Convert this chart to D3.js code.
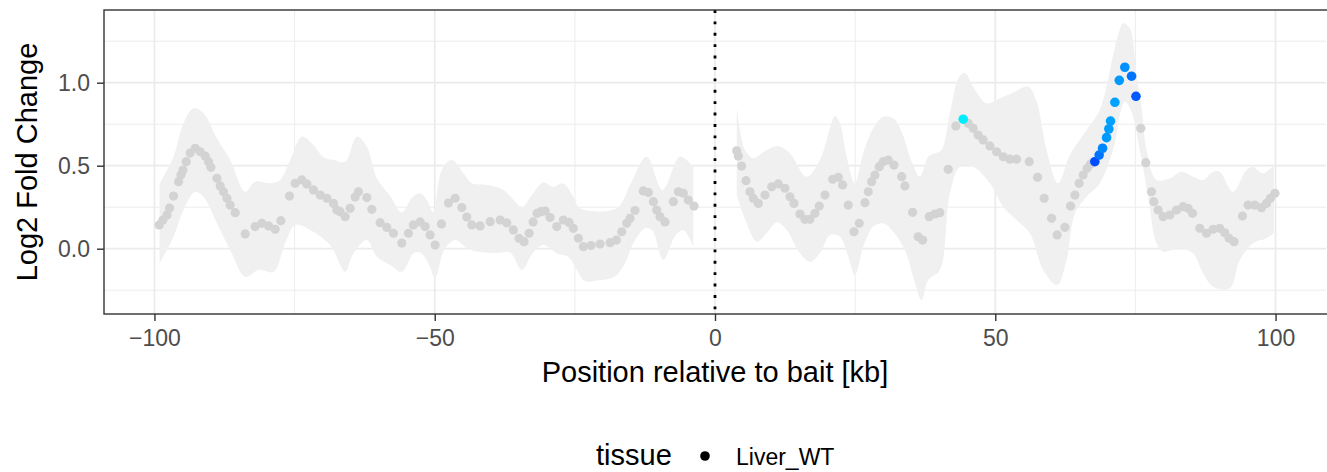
<!DOCTYPE html>
<html><head><meta charset="utf-8">
<script src="https://cdn.jsdelivr.net/npm/d3@7"></script>
<style>body{margin:0;background:#fff} svg{display:block} text{font-family:"Liberation Sans",Arial,Helvetica,sans-serif}</style>
</head><body><svg id="c" width="1327" height="472"></svg>
<script>
// ---------- data ----------
const xTicks = [-100, -50, 0, 50, 100];
const xMinor = [-75, -25, 25, 75];
const yTicks = [0, 0.5, 1.0];
const yMinor = [-0.25, 0.25, 0.75, 1.25];
const xTitle = "Position relative to bait [kb]";
const yTitle = "Log2 Fold Change";
const legendTitle = "tissue";
const legendLabel = "Liver_WT";

// grey points (non-significant windows)
const posGray = [-99.15,-98.49,-97.77,-97.31,-96.60,-95.70,-95.28,-94.92,-94.33,-93.62,-92.73,-91.83,-90.94,-90.35,-89.93,-88.86,-88.27,-87.68,-87.07,-86.49,-85.59,-83.81,-82.03,-80.83,-79.65,-78.46,-77.44,-75.91,-74.89,-73.70,-72.81,-71.63,-70.44,-69.24,-68.06,-67.46,-66.87,-65.98,-65.09,-64.20,-63.61,-62.11,-61.22,-59.74,-58.54,-57.36,-55.87,-54.69,-53.80,-52.60,-51.71,-50.82,-49.93,-48.81,-47.56,-46.36,-45.17,-44.28,-43.39,-41.91,-40.12,-38.34,-37.14,-35.97,-34.95,-34.06,-33.17,-32.45,-31.74,-31.03,-30.31,-29.42,-28.23,-27.05,-26.03,-25.27,-24.38,-23.48,-22.11,-20.51,-18.72,-17.60,-16.64,-15.75,-15.16,-14.27,-12.79,-11.89,-11.00,-10.40,-9.81,-8.92,-7.44,-6.54,-5.65,-4.76,-3.74,
 3.87,4.15,4.76,5.53,6.24,6.83,7.72,8.92,10.11,11.29,12.48,13.37,14.09,15.16,16.05,16.94,17.83,18.60,19.62,20.99,21.99,22.77,23.77,24.79,25.73,26.75,27.34,27.94,28.53,29.30,30.01,30.90,31.92,33.29,33.88,35.25,36.25,37.04,38.21,39.23,40.12,41.60,42.97,45.17,46.06,46.95,47.84,49.04,50.23,51.41,52.60,53.80,56.05,57.54,58.72,60.04,61.04,62.41,63.43,64.20,64.96,65.68,66.39,66.99,75.96,76.86,77.87,78.28,79.05,79.94,81.14,82.33,83.51,84.40,85.18,86.49,87.68,88.86,90.05,90.94,91.71,92.60,94.10,95.10,96.29,97.49,98.38,99.09,99.90];
const lfcGray = [0.143,0.173,0.203,0.245,0.317,0.404,0.444,0.474,0.524,0.576,0.605,0.584,0.558,0.524,0.490,0.424,0.378,0.343,0.304,0.263,0.217,0.089,0.133,0.153,0.137,0.117,0.169,0.317,0.394,0.414,0.390,0.354,0.323,0.304,0.273,0.233,0.223,0.193,0.243,0.311,0.343,0.308,0.237,0.157,0.128,0.093,0.034,0.093,0.143,0.161,0.133,0.083,0.022,0.149,0.275,0.304,0.248,0.191,0.143,0.137,0.163,0.173,0.155,0.113,0.063,0.042,0.093,0.161,0.213,0.223,0.227,0.188,0.133,0.173,0.158,0.123,0.063,0.012,0.019,0.028,0.036,0.052,0.102,0.153,0.183,0.230,0.348,0.339,0.283,0.233,0.193,0.161,0.283,0.343,0.334,0.293,0.257,
 0.590,0.558,0.498,0.410,0.343,0.304,0.273,0.323,0.373,0.390,0.364,0.313,0.273,0.209,0.177,0.177,0.213,0.257,0.323,0.418,0.430,0.384,0.263,0.102,0.153,0.277,0.343,0.404,0.444,0.494,0.524,0.534,0.504,0.434,0.378,0.219,0.072,0.052,0.193,0.209,0.217,0.478,0.739,0.755,0.725,0.685,0.655,0.619,0.584,0.554,0.539,0.539,0.524,0.430,0.304,0.183,0.083,0.129,0.257,0.323,0.394,0.444,0.484,0.510,0.725,0.518,0.343,0.283,0.233,0.193,0.203,0.233,0.253,0.243,0.213,0.123,0.093,0.117,0.123,0.096,0.063,0.042,0.197,0.263,0.263,0.247,0.273,0.304,0.334];

// significant windows, coloured by score (0 = cyan, 1 = blue)
const posSig = [44.28, 67.76, 68.53, 69.14, 69.85, 70.26, 70.56, 71.34, 72.12, 73.11, 74.31, 75.10];
const lfcSig = [0.780, 0.524, 0.564, 0.605, 0.669, 0.721, 0.769, 0.882, 1.014, 1.093, 1.039, 0.918];
const scoreSig = [0.07, 0.70, 0.55, 0.47, 0.40, 0.39, 0.37, 0.37, 0.40, 0.43, 0.55, 0.65];

// confidence ribbon, left of bait: [kb, upper] and [kb, lower]
const leftUpper = [[-99.09,0.390],[-96.60,0.554],[-94.81,0.755],[-93.03,0.846],[-91.25,0.816],[-88.86,0.665],[-86.49,0.534],[-83.81,0.343],[-82.03,0.404],[-79.35,0.394],[-77.57,0.414],[-75.79,0.534],[-73.70,0.675],[-71.63,0.625],[-69.85,0.551],[-68.06,0.534],[-65.98,0.524],[-63.89,0.675],[-62.11,0.614],[-60.33,0.424],[-57.95,0.317],[-55.87,0.218],[-54.08,0.305],[-52.60,0.334],[-51.41,0.293],[-50.29,0.221],[-48.74,0.474],[-46.95,0.534],[-44.88,0.454],[-43.39,0.394],[-40.71,0.384],[-37.75,0.354],[-35.36,0.273],[-34.42,0.245],[-32.69,0.323],[-30.62,0.399],[-28.83,0.373],[-27.05,0.393],[-25.27,0.313],[-24.07,0.243],[-17.53,0.243],[-15.16,0.384],[-12.18,0.554],[-9.36,0.354],[-6.24,0.555],[-3.87,0.492]];
const leftLower = [[-99.09,-0.088],[-96.60,0.072],[-94.81,0.233],[-92.73,0.343],[-91.25,0.313],[-88.86,0.153],[-86.49,-0.008],[-83.81,-0.169],[-81.44,-0.128],[-78.76,-0.139],[-76.68,0.033],[-74.89,0.143],[-72.22,0.113],[-69.24,0.042],[-68.06,-0.008],[-65.98,-0.139],[-64.50,-0.028],[-62.11,0.052],[-60.33,-0.048],[-57.95,-0.098],[-55.87,-0.139],[-53.80,-0.028],[-52.60,-0.023],[-51.12,-0.088],[-49.93,-0.177],[-48.32,-0.008],[-46.36,0.052],[-43.99,-0.002],[-41.91,-0.020],[-38.93,-0.026],[-36.56,-0.023],[-34.47,-0.128],[-32.54,-0.028],[-30.62,0.022],[-28.23,-0.028],[-26.16,-0.050],[-24.66,-0.128],[-23.18,-0.195],[-20.51,-0.189],[-17.83,-0.167],[-16.05,-0.086],[-14.57,0.033],[-12.48,0.123],[-11.23,0.113],[-9.22,-0.068],[-7.13,0.077],[-5.65,0.113],[-3.87,0.012]];

// confidence ribbon, right of bait
const rightUpper = [[3.87,0.846],[4.81,0.655],[5.35,0.595],[6.83,0.545],[9.22,0.595],[11.29,0.619],[13.37,0.575],[16.35,0.434],[18.72,0.534],[20.51,0.725],[21.40,0.799],[22.29,0.755],[23.48,0.554],[24.96,0.394],[26.45,0.575],[28.23,0.725],[30.01,0.795],[31.79,0.786],[33.29,0.705],[35.08,0.524],[36.56,0.434],[38.04,0.554],[39.23,0.575],[40.42,0.595],[41.91,0.816],[43.56,1.036],[44.58,1.058],[46.06,0.976],[48.45,0.876],[50.82,0.906],[53.19,0.941],[55.87,0.976],[57.37,0.886],[59.15,0.595],[61.22,0.394],[63.30,0.564],[66.28,0.715],[68.65,0.836],[71.03,1.167],[71.92,1.287],[72.81,1.358],[74.01,1.328],[74.59,1.247],[75.20,1.046],[76.09,0.855],[76.98,0.595],[78.76,0.414],[81.14,0.424],[83.22,0.464],[85.29,0.434],[87.07,0.414],[88.86,0.464],[90.05,0.464],[92.42,0.343],[94.81,0.474],[95.99,0.494],[97.77,0.454],[99.68,0.504]];
const rightLower = [[3.87,0.323],[5.65,0.153],[7.44,0.042],[9.22,0.093],[11.00,0.159],[12.79,0.113],[15.16,-0.028],[16.94,-0.078],[18.72,-0.028],[20.51,0.083],[22.29,0.072],[23.77,-0.048],[24.96,-0.158],[26.45,0.012],[28.23,0.133],[30.01,0.153],[31.79,0.102],[33.88,-0.008],[35.36,-0.169],[36.86,-0.309],[38.04,-0.189],[40.12,-0.128],[41.91,0.334],[43.69,0.494],[46.06,0.494],[49.04,0.394],[51.41,0.253],[53.80,0.173],[56.17,0.093],[58.54,-0.128],[61.04,-0.219],[62.72,-0.068],[64.20,0.213],[66.28,0.313],[68.65,0.394],[71.33,0.635],[72.22,0.805],[73.11,0.886],[74.31,0.825],[75.79,0.595],[77.27,0.313],[78.76,0.033],[79.94,-0.018],[82.92,0.002],[85.29,-0.028],[87.07,-0.148],[88.86,-0.229],[91.83,-0.239],[93.62,-0.068],[95.99,0.033],[98.38,0.063],[99.68,0.093]];

// ---------- drawing ----------
const svg = d3.select("#c");
const pL = 104, pR = 1326, pT = 10, pB = 314;
const x = d3.scaleLinear().domain([-109, 109]).range([pL, pR]);
const y = d3.scaleLinear().domain([-0.3934, 1.4379]).range([pB, pT]);
const col = d3.scaleLinear().domain([0, 1]).range(["#00ffff", "#0000ff"]).interpolate(d3.interpolateRgb);

svg.append("rect").attr("x", pL).attr("y", pT).attr("width", pR - pL).attr("height", pB - pT).attr("fill", "#fff");

const grid = svg.append("g");
yMinor.forEach(v => grid.append("line").attr("x1", pL).attr("x2", pR).attr("y1", y(v)).attr("y2", y(v)).attr("stroke", "#ebebeb").attr("stroke-width", 0.9));
xMinor.forEach(v => grid.append("line").attr("y1", pT).attr("y2", pB).attr("x1", x(v)).attr("x2", x(v)).attr("stroke", "#ebebeb").attr("stroke-width", 0.9));
yTicks.forEach(v => grid.append("line").attr("x1", pL).attr("x2", pR).attr("y1", y(v)).attr("y2", y(v)).attr("stroke", "#ebebeb").attr("stroke-width", 1.7));
xTicks.forEach(v => grid.append("line").attr("y1", pT).attr("y2", pB).attr("x1", x(v)).attr("x2", x(v)).attr("stroke", "#ebebeb").attr("stroke-width", 1.7));

const edge = d3.line().x(d => x(d[0])).y(d => y(d[1])).curve(d3.curveCatmullRom.alpha(0.5));
[[leftUpper, leftLower], [rightUpper, rightLower]].forEach(([up, lo]) => {
  const lower = lo.slice().reverse();
  const d = edge(up) + "L" + edge(lower).slice(1) + "Z";
  svg.append("path").attr("d", d).attr("fill", "#f0f0f0").attr("stroke", "none");
});

// bait line
svg.append("line").attr("x1", x(0)).attr("x2", x(0)).attr("y1", pT).attr("y2", pB)
  .attr("stroke", "#000").attr("stroke-width", 2.8).attr("stroke-dasharray", "2.9,8.5");

svg.append("g").selectAll("circle").data(posGray.map((p, i) => [p, lfcGray[i]])).join("circle")
  .attr("cx", d => x(d[0])).attr("cy", d => y(d[1])).attr("r", 4.6).attr("fill", "#d3d3d3");
svg.append("g").selectAll("circle").data(posSig.map((p, i) => [p, lfcSig[i], scoreSig[i]])).join("circle")
  .attr("cx", d => x(d[0])).attr("cy", d => y(d[1])).attr("r", 4.8).attr("fill", d => col(d[2]));

svg.append("rect").attr("x", pL).attr("y", pT).attr("width", pR - pL + 2).attr("height", pB - pT)
  .attr("fill", "none").attr("stroke", "#333333").attr("stroke-width", 1.4);

// axes
const fmt = v => (v < 0 ? "\u2212" + Math.abs(v) : String(v));
const ax = svg.append("g").attr("transform", `translate(0,${pB})`)
  .call(d3.axisBottom(x).tickValues(xTicks).tickSize(7).tickPadding(9).tickFormat(fmt));
const ay = svg.append("g").attr("transform", `translate(${pL},0)`)
  .call(d3.axisLeft(y).tickValues(yTicks).tickSize(7).tickPadding(7).tickFormat(d3.format(".1f")));
[ax, ay].forEach(a => {
  a.select(".domain").remove();
  a.selectAll(".tick line").attr("stroke", "#333333").attr("stroke-width", 1.4);
  a.selectAll(".tick text").attr("fill", "#4d4d4d").style("font-size", "23px").style("font-family", '"Liberation Sans",Arial,sans-serif');
});

svg.append("text").attr("x", 715).attr("y", 382).attr("text-anchor", "middle")
  .style("font-size", "29px").attr("fill", "#000").text(xTitle);
svg.append("text").attr("transform", "translate(37,162) rotate(-90)").attr("text-anchor", "middle")
  .style("font-size", "29px").attr("fill", "#000").text(yTitle);

// legend
svg.append("text").attr("x", 596).attr("y", 465).style("font-size", "29px").attr("fill", "#000").text(legendTitle);
svg.append("circle").attr("cx", 705).attr("cy", 456).attr("r", 4.8).attr("fill", "#000");
svg.append("text").attr("x", 736).attr("y", 465).style("font-size", "23px").attr("fill", "#000").text(legendLabel);
</script></body></html>
